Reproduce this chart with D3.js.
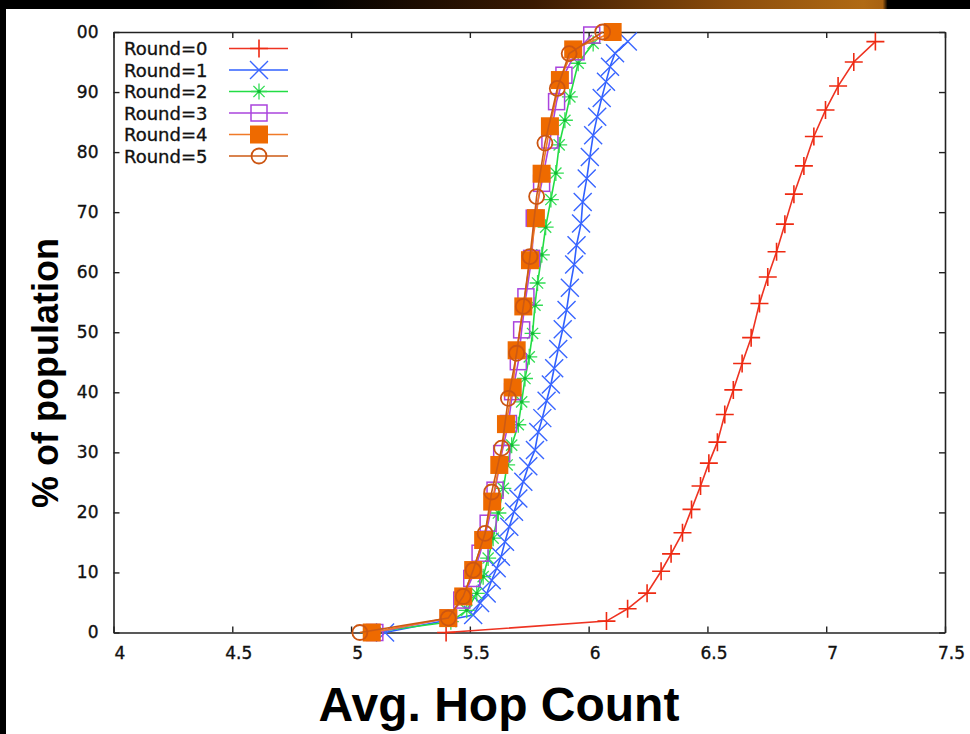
<!DOCTYPE html>
<html><head><meta charset="utf-8">
<script src="https://cdn.jsdelivr.net/npm/d3@7"></script>
<style>html,body{margin:0;padding:0;background:#000;}svg{display:block;}</style>
</head><body>
<svg id="c" width="970" height="734"></svg>
<script>
// ---- data ----
const seriesNames = ["Round=0","Round=1","Round=2","Round=3","Round=4","Round=5"];
const xTickValues = [4,4.5,5,5.5,6,6.5,7,7.5];
const xTickLabels = ["4","4.5","5","5.5","6","6.5","7","7.5"];
const yTickValues = [0,10,20,30,40,50,60,70,80,90,100];
const yTickLabels = ["0","10","20","30","40","50","60","70","80","90","00"];
const xTitle = "Avg. Hop Count";
const yTitle = "% of population";

const round0X = [5.40,6.075,6.164,6.246,6.305,6.347,6.395,6.433,6.471,6.506,6.542,6.573,6.609,6.646,6.684,6.719,6.754,6.791,6.826,6.864,6.906,6.948,6.997,7.050,7.116,7.207];
const round0Y = [0,1.9,3.95,6.55,10.2,13.1,16.6,20.5,24.4,28.2,31.7,36.3,40.4,44.8,49.1,54.8,59.2,63.4,68.0,73.0,77.7,82.6,87.0,91.0,95.0,98.4];

const round1X = [5.143,5.514,5.543,5.571,5.592,5.613,5.631,5.648,5.666,5.686,5.704,5.725,5.746,5.774,5.788,5.805,5.823,5.841,5.855,5.872,5.891,5.907,5.921,5.939,5.949,5.968,5.975,5.992,6.005,6.019,6.036,6.055,6.073,6.090,6.111,6.165];
const round1Y = [0,2.9,4.9,6.5,8.7,10.7,12.6,15.1,17.6,20.1,22.3,25.1,27.7,30.4,33.4,35.7,38.6,41.3,44.0,47.2,50.5,53.7,57.4,61.3,64.5,68.1,71.7,75.6,79.2,82.8,85.9,89.0,91.7,94.2,96.45,98.4];

const round2X = [5.08,5.42,5.487,5.529,5.556,5.577,5.598,5.620,5.641,5.657,5.676,5.704,5.718,5.732,5.750,5.764,5.774,5.785,5.803,5.819,5.841,5.862,5.876,5.900,5.921,5.956,6.019];
const round2Y = [0,1.8,3.7,6.5,9.3,12.4,15.7,19.9,24.0,27.9,31.2,34.6,38.4,42.3,45.9,49.8,54.5,58.2,62.9,67.5,72.1,76.5,81.2,85.3,89.2,94.8,98.1];

const round3X = [5.10,5.41,5.466,5.508,5.543,5.577,5.606,5.634,5.662,5.680,5.704,5.718,5.736,5.760,5.771,5.802,5.837,5.865,5.896,5.947,6.013];
const round3Y = [0,2.4,5.4,9.0,13.2,18.2,23.7,29.8,34.8,40.1,45.1,50.4,55.9,62.3,69.0,74.8,82.0,88.4,92.8,96.7,99.5];

const round4X = [5.087,5.409,5.472,5.514,5.556,5.594,5.624,5.652,5.680,5.697,5.725,5.753,5.778,5.802,5.837,5.879,5.935,6.101];
const round4Y = [0,2.4,6.0,10.4,15.4,21.8,27.9,34.7,40.8,47.0,54.3,62.0,69.0,76.4,84.3,92.0,97.1,100];

const round5X = [5.037,5.409,5.472,5.514,5.564,5.592,5.634,5.662,5.697,5.725,5.753,5.781,5.816,5.868,5.918,6.059];
const round5Y = [0,2.4,6.0,10.4,16.5,23.4,30.7,39.0,46.5,54.3,62.6,72.6,81.5,90.6,96.4,100];

// ---- build ----
const svg = d3.select("#c");
const W = 970, H = 734;
const defs = svg.append("defs");
const grad = defs.append("linearGradient").attr("id","topg").attr("x1","0").attr("x2","1").attr("y1","0").attr("y2","0");
[[0,"#000"],[0.32,"#000"],[0.55,"#3a1a02"],[0.75,"#8a4c0c"],[0.89,"#b06a14"],[0.91,"#a86212"],[0.915,"#000"],[1,"#000"]]
  .forEach(s=>grad.append("stop").attr("offset",s[0]).attr("stop-color",s[1]));
svg.append("rect").attr("width",W).attr("height",H).attr("fill","#000");
svg.append("rect").attr("width",W).attr("height",10).attr("fill","url(#topg)");
svg.append("rect").attr("x",6).attr("y",9).attr("width",W-6).attr("height",H-9).attr("fill","#fff");

const x = d3.scaleLinear().domain([4,7.5]).range([113.5,945]);
const y = d3.scaleLinear().domain([0,100]).range([632.5,32]);

const tickFont = "DejaVu Sans, sans-serif";
// axes
const gB = svg.append("g").attr("transform",`translate(0,${y(0)})`)
  .call(d3.axisBottom(x).tickValues(xTickValues).tickFormat((d,i)=>xTickLabels[i]).tickSize(-6).tickSizeOuter(0).tickPadding(14));
const gT = svg.append("g").attr("transform",`translate(0,${y(100)})`)
  .call(d3.axisTop(x).tickValues(xTickValues).tickFormat("").tickSize(-6).tickSizeOuter(0));
const gL = svg.append("g").attr("transform",`translate(${x(4)},0)`)
  .call(d3.axisLeft(y).tickValues(yTickValues).tickFormat((d,i)=>yTickLabels[i]).tickSize(-6).tickSizeOuter(0).tickPadding(15));
const gR = svg.append("g").attr("transform",`translate(${x(7.5)},0)`)
  .call(d3.axisRight(y).tickValues(yTickValues).tickFormat("").tickSize(-6).tickSizeOuter(0));
[gB,gT,gL,gR].forEach(g=>{
  g.selectAll(".domain").attr("stroke","#222").attr("stroke-width",1.6);
  g.selectAll(".tick line").attr("stroke","#222").attr("stroke-width",1.4);
  g.selectAll("text").attr("font-family",tickFont).attr("font-size",17).attr("fill","#111")
    .attr("stroke","#111").attr("stroke-width",0.35);
});
gB.selectAll("text").attr("dx",6);

// clip for data
defs.append("clipPath").attr("id","pc").append("rect")
  .attr("x",x(4)-12).attr("y",y(100)-12).attr("width",x(7.5)-x(4)+24).attr("height",y(0)-y(100)+30);

const series = [
  {name:seriesNames[0], xs:round0X, ys:round0Y, line:"#ee3322", mark:"plus", col:"#ee2a12"},
  {name:seriesNames[1], xs:round1X, ys:round1Y, line:"#3060ff", mark:"cross", col:"#3a66ff"},
  {name:seriesNames[2], xs:round2X, ys:round2Y, line:"#22dd44", mark:"star", col:"#33dd55"},
  {name:seriesNames[3], xs:round3X, ys:round3Y, line:"#aa44dd", mark:"osq", col:"#aa44dd"},
  {name:seriesNames[4], xs:round4X, ys:round4Y, line:"#f07a28", mark:"fsq", col:"#ee6a00"},
  {name:seriesNames[5], xs:round5X, ys:round5Y, line:"#cc5a14", mark:"circ", col:"#cc5511"}
];

function drawMarker(g, type, cx, cy, col){
  const s = 9;
  if(type==="plus"){
    g.append("path").attr("d",`M${cx-s},${cy}H${cx+s}M${cx},${cy-s}V${cy+s}`).attr("stroke",col).attr("stroke-width",1.6).attr("fill","none");
  } else if(type==="cross"){
    g.append("path").attr("d",`M${cx-s},${cy-s}L${cx+s},${cy+s}M${cx-s},${cy+s}L${cx+s},${cy-s}`).attr("stroke",col).attr("stroke-width",1.4).attr("fill","none");
  } else if(type==="star"){
    const t=8;
    g.append("path").attr("d",`M${cx-t},${cy}H${cx+t}M${cx},${cy-t}V${cy+t}M${cx-t*0.7},${cy-t*0.7}L${cx+t*0.7},${cy+t*0.7}M${cx-t*0.7},${cy+t*0.7}L${cx+t*0.7},${cy-t*0.7}`).attr("stroke",col).attr("stroke-width",1.3).attr("fill","none");
    g.append("circle").attr("cx",cx).attr("cy",cy).attr("r",1.8).attr("fill","#11bb33");
  } else if(type==="osq"){
    g.append("rect").attr("x",cx-8).attr("y",cy-8).attr("width",16).attr("height",16).attr("stroke",col).attr("stroke-width",1.5).attr("fill","none");
  } else if(type==="fsq"){
    g.append("rect").attr("x",cx-9).attr("y",cy-9).attr("width",18).attr("height",18).attr("fill",col);
  } else if(type==="circ"){
    g.append("circle").attr("cx",cx).attr("cy",cy).attr("r",7.5).attr("stroke",col).attr("stroke-width",1.8).attr("fill","none");
  }
}

const plot = svg.append("g").attr("clip-path","url(#pc)");
const lineGen = d3.line().x(d=>x(d[0])).y(d=>y(d[1]));
series.forEach(s=>{
  const pts = s.xs.map((v,i)=>[v,s.ys[i]]);
  const g = plot.append("g");
  g.append("path").attr("d",lineGen(pts)).attr("fill","none").attr("stroke",s.line).attr("stroke-width",1.6);
  pts.forEach(p=>drawMarker(g,s.mark,x(p[0]),y(p[1]),s.col));
});

// legend
const leg = svg.append("g");
const legY0 = 48.5, legDy = 21.5;
series.forEach((s,i)=>{
  const yy = legY0 + i*legDy;
  leg.append("text").attr("x",124).attr("y",yy+6.5).text(s.name)
    .attr("font-family",tickFont).attr("font-size",18).attr("fill","#111")
    .attr("stroke","#111").attr("stroke-width",0.35);
  leg.append("line").attr("x1",229).attr("x2",288).attr("y1",yy).attr("y2",yy).attr("stroke",s.line).attr("stroke-width",1.6);
  drawMarker(leg,s.mark,259,yy,s.col);
});

// titles
svg.append("text").attr("x",499).attr("y",721).attr("text-anchor","middle")
  .attr("font-family","Liberation Sans, Arial, sans-serif").attr("font-weight","bold").attr("font-size",48).attr("fill","#000").text(xTitle);
svg.append("text").attr("transform","translate(58,373) rotate(-90)").attr("text-anchor","middle")
  .attr("font-family","Liberation Sans, Arial, sans-serif").attr("font-weight","bold").attr("font-size",36).attr("fill","#000").text(yTitle);
</script>
</body></html>
